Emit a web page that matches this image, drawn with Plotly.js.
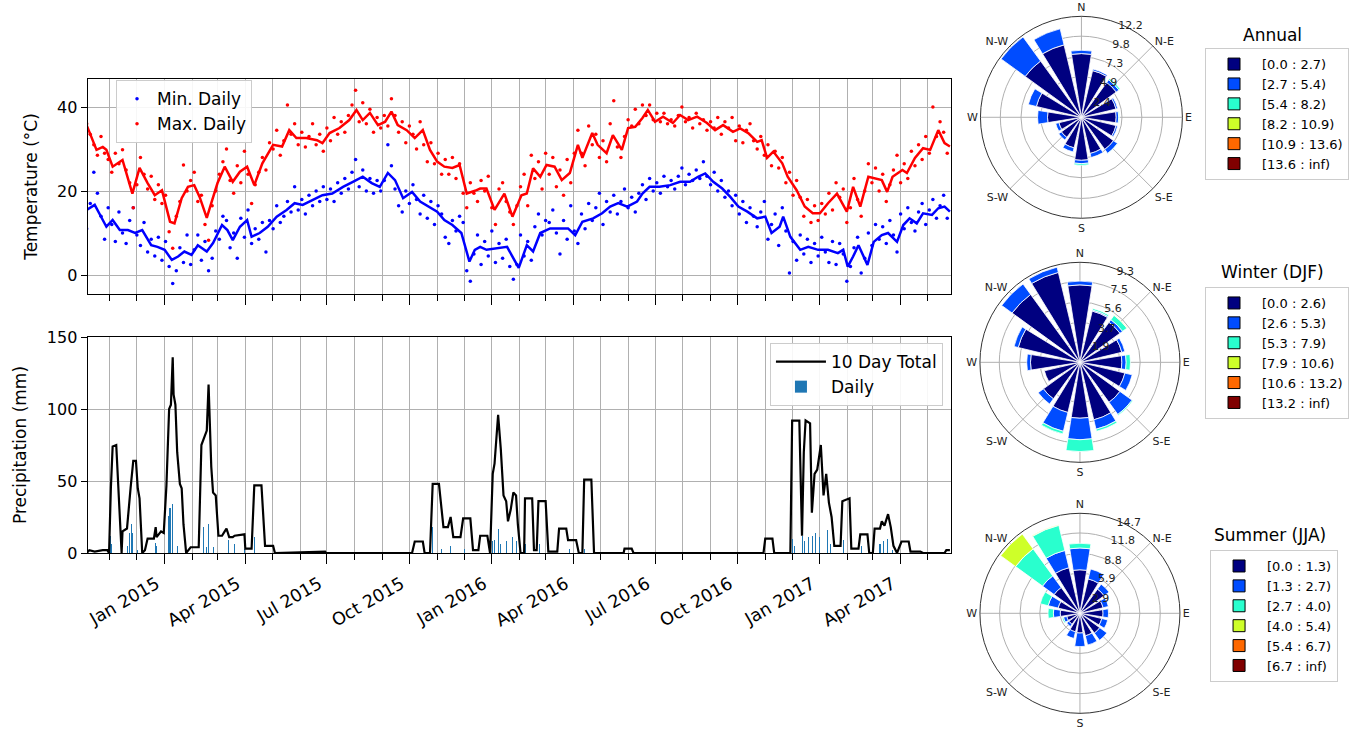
<!DOCTYPE html>
<html>
<head>
<meta charset="utf-8">
<script src="https://cdn.plot.ly/plotly-3.0.1.min.js"></script>
<style>html,body{margin:0;padding:0;background:#fff;}#chart{width:1349px;height:729px;}</style>
</head>
<body>
<div id="chart"></div>
<script>
// ---------- DATA (day numbers are days since 2015-01-01) ----------
const scatterStartDay = -87;
const scatterStepDays = 4;
const minDailyValues = [11.0,17.0,24.5,19.5,14.0,8.5,16.0,12.0,8.0,15.0,10.0,7.5,13.0,16.0,9.5,7.0,12.5,5.5,8.5,4.5,9.0,3.5,
8.0,2.0,-2.0,1.0,6.5,3.0,9.5,2.5,6.0,9.5,3.5,8.0,1.0,4.0,10.5,8.5,14.0,13.0,6.5,10.0,4.0,13.5,9.0,15.5,7.5,11.0,8.5,12.5,5.5,
13.0,11.0,16.5,12.5,14.0,17.5,15.0,21.0,15.5,18.0,14.5,19.0,16.5,20.0,17.5,21.0,18.0,20.5,17.5,22.0,19.5,23.0,20.5,24.5,27.5,
21.0,25.0,20.0,23.0,19.5,22.5,20.0,22.5,31.0,26.0,20.5,16.5,15.0,20.0,17.0,21.5,18.0,14.5,19.0,13.5,17.5,12.0,16.5,14.5,9.0,
7.5,13.0,10.5,14.0,12.5,1.0,-1.5,5.0,9.5,2.5,8.0,4.5,10.5,3.0,7.5,4.0,8.5,2.0,-1.0,2.5,9.5,4.5,8.0,3.5,11.5,14.5,9.5,13.0,
12.5,15.5,10.0,5.0,13.0,8.5,16.5,10.5,7.5,14.5,11.0,17.0,13.0,16.0,19.5,12.0,17.5,15.0,19.0,14.5,17.5,20.5,16.0,18.5,15.0,
19.5,21.5,18.0,23.0,20.0,22.0,19.5,23.5,21.0,22.5,20.5,23.5,25.5,21.5,24.0,22.5,25.0,23.0,27.0,23.5,21.5,24.5,20.0,22.5,18.5,
20.0,16.5,19.0,14.5,17.5,12.5,16.0,14.0,11.5,15.0,17.5,8.5,12.0,14.5,7.0,16.0,10.5,0.5,8.0,3.5,9.5,5.0,8.5,3.0,7.5,4.5,9.0,
5.5,3.0,8.0,2.5,7.5,5.0,-1.5,2.0,6.5,9.0,0.5,4.0,10.0,7.0,12.0,8.5,11.5,7.5,13.0,9.5,5.5,14.5,11.0,16.0,12.5,10.5,15.0,17.0,
12.0,15.5,18.0,13.5,16.5,19.0,13.5];
const maxDailyValues = [36.0,33.5,31.0,28.5,33.0,29.0,27.5,24.5,29.0,26.5,29.8,25.0,22.0,16.0,21.5,28.0,24.0,20.5,23.5,18.0,21.5,17.0,
19.0,10.3,6.4,14.0,17.5,26.2,20.0,22.5,24.5,17.5,19.0,12.0,8.3,16.5,20.0,24.0,27.0,30.0,22.5,19.5,26.0,22.0,29.5,24.0,17.0,21.5,
24.5,28.0,25.0,31.5,30.0,34.5,28.5,32.0,40.5,33.5,36.0,31.0,34.0,30.5,33.0,36.0,31.0,33.5,29.5,35.0,32.0,37.5,33.5,36.5,34.0,
38.0,40.5,44.0,36.5,41.0,36.0,39.5,34.0,37.5,35.0,38.0,35.5,42.0,38.0,34.0,36.5,31.5,35.5,33.5,30.0,36.5,31.0,27.0,31.5,26.5,
29.0,24.0,27.5,24.0,28.0,23.0,26.5,19.5,16.0,22.0,19.5,17.5,22.5,20.0,23.5,16.0,12.0,20.5,22.0,17.5,15.0,12.0,16.5,21.0,24.0,
16.5,28.5,23.0,27.0,20.5,29.0,24.0,28.0,21.0,25.0,19.0,27.5,22.0,29.0,34.5,29.0,26.0,35.5,31.0,33.5,28.0,32.0,27.0,36.0,41.5,
30.5,28.0,33.0,37.0,35.5,39.5,36.0,40.5,38.0,40.5,37.0,38.5,36.5,38.5,36.0,37.0,35.5,38.0,40.0,36.5,37.5,35.0,38.5,36.0,37.0,
34.5,36.5,35.0,37.5,33.5,36.5,35.0,37.5,32.0,35.5,31.5,34.5,36.0,32.0,30.0,33.0,28.5,31.0,26.0,29.5,25.5,28.0,22.0,24.5,19.0,
22.5,18.5,14.0,18.0,12.5,16.5,13.0,17.0,14.5,19.5,15.5,22.0,18.5,20.5,12.5,16.0,23.0,18.0,14.0,20.0,26.5,22.0,25.5,20.0,24.0,
17.5,21.5,25.0,28.5,22.0,26.5,23.0,29.5,26.0,31.0,27.5,33.0,29.0,40.0,33.0,36.5,34.0,29.0];
// rolling mean lines: [day, value]
const minMeanLine = [[-87,15.5],[-78,16.7],[-73,14.7],[-65,11.5],[-58,13.1],[-50,10.7],[-41,10.7],[-33,10.0],[-25,10.7],[-15,7.1],
[-8,6.7],[0,6.0],[8,3.6],[15,4.4],[22,5.6],[30,4.8],[37,7.1],[47,5.6],[54,7.6],[64,11.9],[70,10.7],[76,8.3],[84,11.5],[92,13.1],
[97,9.1],[106,10.0],[115,11.5],[125,13.9],[136,15.5],[145,17.1],[154,16.7],[165,17.9],[176,19.0],[187,19.4],[199,21.0],[210,22.2],
[221,23.4],[231,21.9],[240,21.0],[249,24.3],[257,22.6],[266,18.3],[276,19.8],[285,17.5],[294,16.3],[304,15.1],[312,13.1],[321,11.9],
[331,10.0],[340,3.2],[346,6.0],[352,6.7],[359,6.0],[371,6.4],[382,6.7],[388,4.4],[395,1.7],[404,7.1],[411,5.6],[419,10.0],[430,11.1],
[441,11.1],[450,11.1],[458,9.5],[466,12.7],[478,13.5],[488,14.7],[497,16.3],[506,17.1],[516,16.3],[527,17.5],[533,19.4],[541,21.0],
[552,21.0],[564,21.4],[575,22.2],[586,22.2],[595,23.4],[603,24.2],[612,22.2],[622,20.6],[631,18.6],[640,16.3],[650,15.1],[661,13.5],
[670,13.9],[677,10.0],[686,11.5],[690,13.9],[698,9.1],[709,6.0],[718,6.7],[729,6.0],[740,6.0],[751,5.2],[757,6.0],[762,2.0],[768,4.4],
[774,7.1],[784,2.4],[791,7.9],[800,9.5],[807,10.0],[817,7.9],[824,11.9],[831,13.5],[839,12.3],[846,14.7],[856,14.3],[863,15.9],
[870,16.3],[876,15.1]];
const maxMeanLine = [[-87,35.7],[-76,29.8],[-69,30.5],[-65,29.8],[-58,25.8],[-47,27.4],[-36,19.4],[-28,25.5],[-19,21.9],[-11,19.0],
[-3,20.2],[6,12.7],[11,12.3],[19,18.3],[26,21.0],[33,21.4],[39,18.6],[47,13.6],[52,17.1],[59,21.9],[67,25.8],[76,22.2],[84,24.6],
[92,25.8],[100,21.4],[109,26.6],[121,31.0],[131,30.6],[139,34.5],[147,32.6],[158,32.6],[170,32.1],[176,31.4],[184,33.8],[195,35.0],
[206,36.9],[214,39.3],[221,36.9],[229,38.6],[238,35.7],[246,36.5],[253,38.9],[260,35.7],[270,34.5],[279,32.6],[288,34.5],[296,29.8],
[304,27.0],[312,25.8],[321,25.5],[329,26.2],[337,19.4],[348,20.2],[352,20.6],[359,20.6],[368,15.5],[379,19.4],[388,13.9],[398,19.0],
[404,19.4],[411,25.4],[419,23.4],[426,26.2],[435,25.8],[443,22.6],[452,24.3],[461,31.0],[466,27.9],[477,33.8],[483,31.0],[493,29.0],
[500,33.3],[510,29.8],[517,35.0],[525,35.3],[533,37.4],[539,39.3],[547,36.5],[556,37.7],[567,36.2],[575,38.1],[584,36.9],[594,37.7],
[605,36.2],[614,34.5],[623,35.7],[634,34.1],[642,34.9],[651,33.8],[661,31.7],[666,32.1],[672,27.9],[679,29.4],[689,26.6],[695,23.4],
[705,20.2],[714,16.3],[723,14.7],[731,14.7],[740,17.1],[750,19.4],[756,17.1],[761,15.1],[768,21.0],[776,16.3],[785,23.4],[792,23.0],
[800,22.6],[806,19.8],[812,23.4],[823,25.0],[828,24.3],[837,27.9],[846,30.2],[854,29.8],[863,34.5],[870,31.4],[876,30.6]];
// precipitation 10-day total: [day, mm]
const precip10Day = [[-87,0],[-84,2],[-78,1],[-69,2],[-64,2],[-62,0],[-60,45],[-58,74],[-54,75],[-51,40],[-48,0],[-47,15],[-42,17],
[-38,45],[-35,64],[-32,64],[-30,45],[-28,38],[-25,0],[-22,2],[-19,10],[-12,10],[-10,18],[-9,11],[-4,15],[-1,14],[2,47],[5,100],
[7,103],[9,136],[10,110],[12,103],[14,70],[17,48],[19,45],[21,20],[24,0],[29,4],[38,4],[41,75],[44,80],[47,85],[49,117],[52,60],
[54,42],[57,40],[60,12],[64,12],[67,15],[69,17],[72,11],[76,11],[78,12],[89,13],[90,3],[97,3],[100,47],[108,47],[112,5],[121,5],
[123,0],[169,1],[179,1],[180,0],[276,0],[279,8],[288,8],[290,0],[296,0],[299,48],[306,48],[311,18],[316,18],[319,25],[322,11],
[330,11],[333,24],[341,24],[344,2],[350,2],[352,12],[360,12],[363,0],[366,55],[368,62],[372,96],[375,72],[378,40],[381,36],[383,22],
[386,30],[389,42],[392,40],[394,20],[397,0],[401,0],[402,38],[410,38],[412,2],[415,2],[417,36],[425,36],[428,1],[438,1],[440,17],
[448,17],[450,9],[459,9],[462,0],[466,0],[468,51],[476,51],[479,0],[512,0],[513,3],[521,3],[523,0],[668,0],[670,10],[678,10],
[680,0],[698,0],[700,92],[708,92],[711,12],[713,70],[715,92],[720,90],[722,28],[725,55],[728,58],[732,75],[735,40],[738,55],
[741,35],[744,25],[747,5],[754,5],[756,36],[764,38],[766,3],[774,3],[776,13],[784,13],[786,0],[790,0],[792,17],[798,17],[800,22],
[803,19],[807,27],[810,18],[813,5],[817,0],[822,8],[830,8],[832,1],[843,1],[846,0],[870,0],[872,2],[876,2]];
// precipitation daily: [day, mm]
const precipDaily = [[-60,12],[-59,6],[-41,5],[-39,14],[-37,20],[-36,14],[-30,2],[-10,7],[-9,5],[4,26],[6,31],[9,34],[14,5],
[43,18],[47,4],[49,20],[54,4],[71,9],[78,6],[89,3],[100,11],[299,18],[309,3],[319,5],[335,3],[366,8],[368,9],[372,17],[375,6],
[381,8],[388,11],[392,8],[402,6],[418,6],[452,3],[468,3],[700,10],[703,5],[712,12],[714,8],[718,11],[723,12],[726,14],[731,11],
[739,16],[743,6],[757,9],[777,5],[798,6],[802,8],[806,10],[812,2]];
const xTickLabelFormat = '%b %Y';

// wind roses
const windDirections = [0,22.5,45,67.5,90,112.5,135,157.5,180,202.5,225,247.5,270,292.5,315,337.5];
const compassLabels = ['N','N-E','E','S-E','S','S-W','W','N-W'];
const annualBins = ['[0.0 : 2.7)','[2.7 : 5.4)','[5.4 : 8.2)','[8.2 : 10.9)','[10.9 : 13.6)','[13.6 : inf)'];
const annualFreq = [
  [7.7,5.8,5.2,4.3,4.2,4.3,4.8,4.5,5.2,3.8,3.0,2.8,4.1,5.6,8.4,9.0],
  [0.4,0.2,0.4,0.2,0.3,0.2,0.6,0.5,0.4,0.5,0.4,0.4,1.2,1.0,3.6,2.0],
  [0,0,0.2,0,0.1,0,0.05,0,0.2,0,0,0,0,0,0,0],
  [0,0,0,0,0,0,0,0,0,0,0,0,0,0,0,0],
  [0,0,0,0,0,0,0,0,0,0,0,0,0,0,0,0],
  [0,0,0,0,0,0,0,0,0,0,0,0,0,0,0,0]];
const annualRadialTicks = [2.4,4.9,7.3,9.8,12.2];
const winterBins = ['[0.0 : 2.6)','[2.6 : 5.3)','[5.3 : 7.9)','[7.9 : 10.6)','[10.6 : 13.2)','[13.2 : inf)'];
const winterFreq = [
  [7.2,4.9,4.6,4.0,3.9,4.3,4.6,5.5,5.2,4.8,4.2,3.4,4.6,5.9,7.8,8.6],
  [0.35,0.1,0.3,0.3,0.4,0.7,1.4,0.9,2.0,1.8,0.6,0,0.35,0.4,1.2,0.5],
  [0,0.15,0.5,0,0.4,0,0.1,0.2,1.1,0.25,0,0,0,0,0,0],
  [0,0,0.05,0,0,0,0,0,0,0,0,0,0,0,0,0],
  [0,0,0,0,0,0,0,0,0,0,0,0,0,0,0,0],
  [0,0,0,0,0,0,0,0,0,0,0,0,0,0,0,0]];
const winterRadialTicks = [1.9,3.7,5.6,7.5,9.3];
const summerBins = ['[0.0 : 1.3)','[1.3 : 2.7)','[2.7 : 4.0)','[4.0 : 5.4)','[5.4 : 6.7)','[6.7 : inf)'];
const summerFreq = [
  [6.4,5.2,4.4,3.5,3.4,3.3,3.6,3.4,2.9,2.8,2.0,2.0,2.9,3.3,4.7,6.9],
  [3.2,1.5,0.9,0.8,0.8,0.9,1.3,1.4,2.0,1.0,0.4,0.5,1.0,1.5,2.1,2.6],
  [0.7,0,0,0,0,0,0,0,0,0,0,0.2,0.8,1.2,4.9,3.8],
  [0,0,0,0,0,0,0,0,0,0,0,0,0,0,2.7,0.1],
  [0,0,0,0,0,0,0,0,0,0,0,0,0,0,0,0],
  [0,0,0,0,0,0,0,0,0,0,0,0,0,0,0,0]];
const summerRadialTicks = [2.9,5.9,8.8,11.8,14.7];

// ---------- STYLE ----------
const FONT = 'DejaVu Sans';
const binColors = ['#000080','#004cff','#29ffce','#ceff29','#ff6800','#800000'];
const GRID = '#b0b0b0';
const DAY0 = Date.UTC(2015,0,1);
function toDate(d){ return new Date(DAY0 + d*86400000).toISOString().slice(0,10); }

const traces = [];
traces.push({type:'scatter', mode:'markers', name:'Min. Daily', legend:'legend', xaxis:'x', yaxis:'y',
  x: minDailyValues.map((v,i)=>toDate(scatterStartDay+i*scatterStepDays)), y: minDailyValues,
  marker:{color:'#0000ff', size:3.5}});
traces.push({type:'scatter', mode:'markers', name:'Max. Daily', legend:'legend', xaxis:'x', yaxis:'y',
  x: maxDailyValues.map((v,i)=>toDate(scatterStartDay+i*scatterStepDays)), y: maxDailyValues,
  marker:{color:'#ff0000', size:3.5}});
traces.push({type:'scatter', mode:'lines', showlegend:false, xaxis:'x', yaxis:'y',
  x: minMeanLine.map(p=>toDate(p[0])), y: minMeanLine.map(p=>p[1]), line:{color:'#0000ff', width:2.5}});
traces.push({type:'scatter', mode:'lines', showlegend:false, xaxis:'x', yaxis:'y',
  x: maxMeanLine.map(p=>toDate(p[0])), y: maxMeanLine.map(p=>p[1]), line:{color:'#ff0000', width:2.5}});
traces.push({type:'scatter', mode:'lines', name:'10 Day Total', legend:'legend2', xaxis:'x2', yaxis:'y2',
  x: precip10Day.map(p=>toDate(p[0])), y: precip10Day.map(p=>p[1]), line:{color:'#000000', width:2.2}});
traces.push({type:'bar', name:'Daily', legend:'legend2', xaxis:'x2', yaxis:'y2',
  x: precipDaily.map(p=>toDate(p[0])), y: precipDaily.map(p=>p[1]), width: 86400000*1.2,
  marker:{color:'#1f77b4', line:{width:0}}});

const seasons = [
  {polar:'polar', legend:'legend3', freq:annualFreq, bins:annualBins},
  {polar:'polar2', legend:'legend4', freq:winterFreq, bins:winterBins},
  {polar:'polar3', legend:'legend5', freq:summerFreq, bins:summerBins}];
seasons.forEach(s=>{
  s.freq.forEach((row,b)=>{
    traces.push({type:'barpolar', subplot:s.polar, r: row, theta: windDirections, width:18,
      showlegend:false, hoverinfo:'skip',
      marker:{color:binColors[b], line:{color:'#ffffff', width:0.8}}});
  });
  s.bins.forEach((label,b)=>{
    traces.push({type:'barpolar', subplot:s.polar, r:[0], theta:[0], width:1, name:label, legend:s.legend,
      showlegend:true, hoverinfo:'skip', marker:{color:binColors[b], line:{color:'#000000', width:1}}});
  });
});

const xRange = ['2014-10-07', '2017-05-27 06:00'];
const commonX = {type:'date', range:xRange, dtick:'M3', tick0:'2015-01-01', showgrid:true, gridcolor:GRID, gridwidth:1,
  ticks:'outside', ticklen:10, tickcolor:'#000', showline:true, mirror:true, linecolor:'#000', linewidth:1,
  minor:{dtick:'M1', tick0:'2015-01-01', showgrid:true, gridcolor:GRID, gridwidth:1, ticks:'outside', ticklen:6, tickcolor:'#000'},
  automargin:false, zeroline:false};
const commonY = {showgrid:true, gridcolor:GRID, gridwidth:1, ticks:'outside', ticklen:6, tickcolor:'#000',
  showline:true, mirror:true, linecolor:'#000', linewidth:1, zeroline:false, automargin:false, tickfont:{size:16, color:'#000'}};

function polarCfg(dom, ticks){
  return {domain:dom, bgcolor:'#ffffff', barmode:'stack',
    angularaxis:{rotation:90, direction:'clockwise', tickmode:'array', tickvals:[0,45,90,135,180,225,270,315], ticktext:compassLabels,
      showgrid:true, gridcolor:GRID, gridwidth:1, showline:true, linecolor:'#333', linewidth:1, ticks:'', tickfont:{size:11, color:'#222'}},
    radialaxis:{range:[0, ticks[ticks.length-1]], tickmode:'array', tickvals:ticks, ticktext:ticks.map(t=>t.toFixed(1)),
      showline:false, ticks:'', gridcolor:GRID, gridwidth:1, angle:72, tickangle:72, tickfont:{size:11, color:'#222'}}};
}
function legendCfg(x, y, size, anchor){
  return {x:x, y:y, xanchor:anchor||'left', yanchor:'top', xref:'paper', yref:'paper', bgcolor:'rgba(255,255,255,0.9)',
    bordercolor:'#cccccc', borderwidth:1, font:{size:size, color:'#000', family:FONT}, traceorder:'normal'};
}
function windLegend(x, y){
  return Object.assign(legendCfg(x, y, 13), {itemwidth:46});
}

const layout = {
  width:1349, height:729, margin:{l:0,r:0,t:0,b:0}, paper_bgcolor:'#ffffff', plot_bgcolor:'#ffffff',
  font:{family:FONT, color:'#000'}, showlegend:true, bargap:0,
  xaxis: Object.assign({}, commonX, {domain:[0.0649,0.705], anchor:'y', showticklabels:false}),
  xaxis2: Object.assign({}, commonX, {domain:[0.0649,0.705], anchor:'y2', tickformat:xTickLabelFormat, tickangle:-30,
    tickfont:{size:17.5, color:'#000'}, ticklabelshift:-8, ticklabelstandoff:3}),
  yaxis: Object.assign({}, commonY, {domain:[0.5967,0.8916], anchor:'x', range:[-4.52,46.67], tickvals:[0,20,40],
    title:{text:'Temperature (°C)', font:{size:17, color:'#000'}, standoff:15}}),
  yaxis2: Object.assign({}, commonY, {domain:[0.2414,0.5377], anchor:'x2', range:[0,150], tickvals:[0,50,100,150],
    title:{text:'Precipitation (mm)', font:{size:17, color:'#000'}, standoff:15}}),
  polar: polarCfg({x:[0.7268,0.8765], y:[0.7005,0.9777]}, annualRadialTicks),
  polar2: polarCfg({x:[0.7264,0.8747], y:[0.3658,0.6402]}, winterRadialTicks),
  polar3: polarCfg({x:[0.7264,0.8747], y:[0.0215,0.2959]}, summerRadialTicks),
  legend: legendCfg(0.086, 0.89, 17),
  legend2: Object.assign(legendCfg(0.699, 0.5295, 17, 'right'), {itemwidth:50}),
  legend3: windLegend(0.8933, 0.934),
  legend4: windLegend(0.8933, 0.6063),
  legend5: windLegend(0.897, 0.2455),
  annotations:[
    {text:'Annual', x:1272/1349, y:1-35/729, xanchor:'center', yanchor:'middle', xref:'paper', yref:'paper', showarrow:false, font:{size:17, color:'#000'}},
    {text:'Winter (DJF)', x:1272/1349, y:1-272/729, xanchor:'center', yanchor:'middle', xref:'paper', yref:'paper', showarrow:false, font:{size:17, color:'#000'}},
    {text:'Summer (JJA)', x:1270/1349, y:1-535/729, xanchor:'center', yanchor:'middle', xref:'paper', yref:'paper', showarrow:false, font:{size:17, color:'#000'}}
  ]
};
Plotly.newPlot('chart', traces, layout, {displayModeBar:false, staticPlot:true});
</script>
</body>
</html>
